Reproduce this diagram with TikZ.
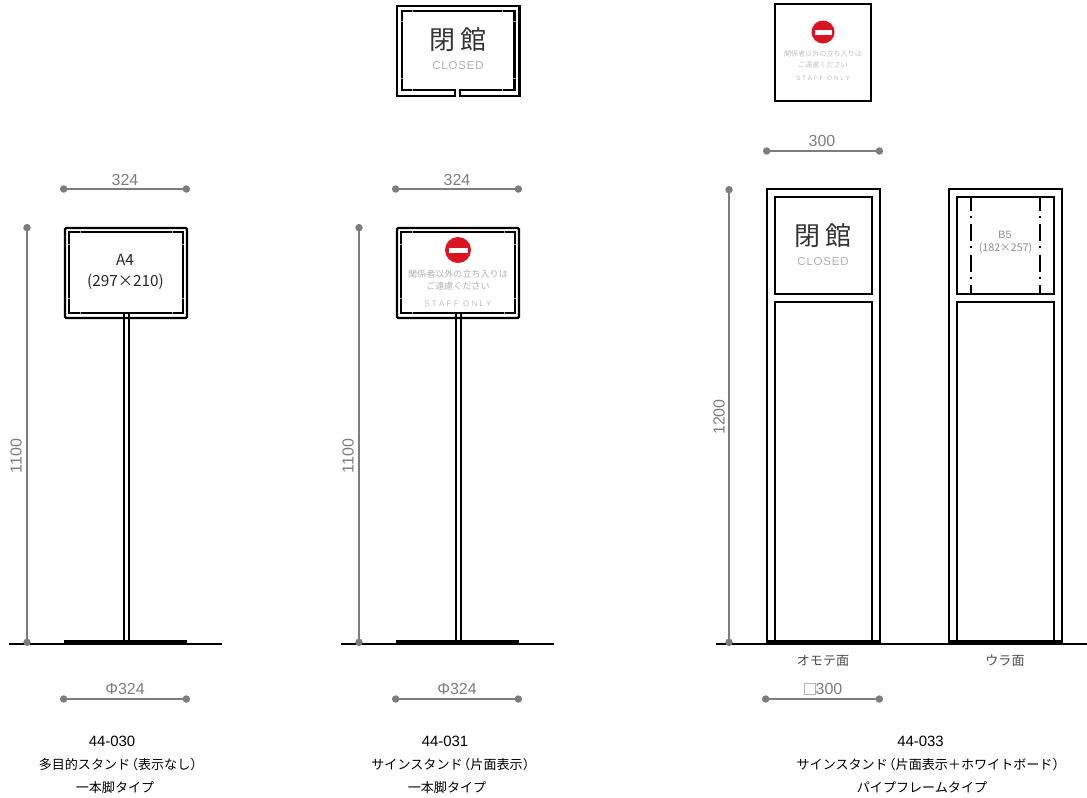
\documentclass[tikz,border=0pt]{standalone}
\usepackage{fontspec}
\setmainfont{Liberation Sans}
\newfontfamily\cjk{Noto Sans CJK JP}
\usetikzlibrary{arrows.meta}
\definecolor{dimgray}{RGB}{125,125,125}
\definecolor{signgray}{RGB}{175,175,175}
\definecolor{nored}{RGB}{218,20,32}
\newcommand{\lparen}{\kern-.4em（}
\newcommand{\rparen}{）\kern-.4em}
\tikzset{
  framepipe/.style={draw=black, line width=1.7pt},
  panel/.style={draw=black, line width=1.6pt},
  groundline/.style={draw=black, line width=1.4pt},
  baseplate/.style={fill=black},
  whitetick/.style={draw=white, line width=0.35pt, opacity=0.6},
  dimline/.style={draw=dimgray, line width=1.4pt, {Circle[length=5.5pt]}-{Circle[length=5.5pt]}},
  dimlabel/.style={text=dimgray, font=\fontsize{12}{12}\selectfont, inner sep=0pt},
  caption/.style={font=\cjk\fontsize{9.8}{10}\selectfont, inner sep=0pt},
  codelabel/.style={font=\fontsize{11.2}{11}\selectfont, inner sep=0pt},
  facelabel/.style={text=black!70, font=\cjk\fontsize{9.8}{10}\selectfont, inner sep=0pt},
  bigsign/.style={text=black!80, font=\cjk\fontsize{19.5}{19}\selectfont, inner sep=0pt},
  closedtext/.style={text=signgray, font=\fontsize{8.6}{9}\selectfont\addfontfeatures{LetterSpace=7}, inner sep=0pt},
  tinysign/.style={text=signgray, font=\cjk\fontsize{6.8}{7}\selectfont, inner sep=0pt},
  staffonly/.style={text=signgray!80, font=\fontsize{6}{6}\selectfont, inner sep=0pt},
}
\begin{document}
\begin{tikzpicture}[x=0.75pt, y=-0.75pt]
  \useasboundingbox (0,0) rectangle (1087,797);

  % two stands on one leg
  \foreach \ox/\nm in {0/a, 332/b} {
    \begin{scope}[shift={(\ox,0)}]
      \draw[framepipe, rounded corners=1pt] (65,228) rectangle (187,318);
      \draw[panel] (69,232) rectangle (183,313);
      \draw[panel, line width=1.5pt] (123.5,313) -- (123.5,641) (128.5,313) -- (128.5,641);
      \fill[baseplate] (64,640) rectangle (187,645);
      \foreach \tx in {80.5,172} {
        \draw[whitetick] (\tx,230.5) -- (\tx,233.5) (\tx,311.5) -- (\tx,314.5);
      }
      \foreach \ty in {244,298} {
        \draw[whitetick] (67.5,\ty) -- (70.5,\ty) (181.5,\ty) -- (184.5,\ty);
      }
      \coordinate (gl\nm) at (9,644);
      \coordinate (gr\nm) at (222,644);
      \draw[groundline] (gl\nm) -- (gr\nm);
      \coordinate (wl\nm) at (60,189);
      \coordinate (wr\nm) at (190,189);
      \draw[dimline] (wl\nm) -- (wr\nm);
      \node[dimlabel] (wt\nm) at (125,180) {324};
      \coordinate (ht\nm) at (27,224);
      \coordinate (hb\nm) at (27,646);
      \draw[dimline] (ht\nm) -- (hb\nm);
      \node[dimlabel, rotate=90] (hv\nm) at (16,456) {1100};
      \coordinate (bl\nm) at (60,699);
      \coordinate (br\nm) at (190,699);
      \draw[dimline] (bl\nm) -- (br\nm);
      \node[dimlabel] (bt\nm) at (125,689) {Φ324};
    \end{scope}
  }

  % A4 sign
  \node[inner sep=0pt, font=\cjk\fontsize{11.5}{12}\selectfont, text=black!85] (afour) at (125,260) {A4};
  \node[inner sep=0pt, font=\cjk\fontsize{11.5}{12}\selectfont, text=black!85] (afoursize) at (125.5,282) {(297×210)};

  % no entry sign
  \fill[nored] (458,250) circle (13);
  \fill[white] (448.5,247.5) rectangle (467.5,253);
  \node[tinysign] (nea) at (458,274.5) {関係者以外の立ち入りは};
  \node[tinysign] (neb) at (458,286.5) {ご遠慮ください};
  \node[staffonly] (nec) at (458,303.5) {S T A F F\ \ O N L Y};

  % closed sign on top
  \draw[framepipe, line join=miter] (460,96) -- (519.5,96) -- (519.5,6) -- (397,6) -- (397,96) -- (455,96)
    -- (455,90) -- (402,90) -- (402,11) -- (514.5,11) -- (514.5,90) -- (460,90) -- cycle;
  \foreach \tx in {412,502} {
    \draw[whitetick] (\tx,9.5) -- (\tx,12.5) (\tx,88.5) -- (\tx,91.5);
  }
  \foreach \ty in {21,78} {
    \draw[whitetick] (400.5,\ty) -- (403.5,\ty) (513,\ty) -- (516,\ty);
  }
  \node[bigsign] (toptitle) at (458,39.5) {閉\,館};
  \node[closedtext] (topclosed) at (458,65.5) {CLOSED};

  % no entry sheet on top
  \draw[draw=black, line width=0.9pt] (775,4) rectangle (871,101);
  \fill[nored] (823,32) circle (11.5);
  \fill[white] (814.5,30) rectangle (831.5,34.5);
  \node[tinysign, text=signgray!80, font=\cjk\fontsize{5.3}{6}\selectfont] (sha) at (823,53.5) {関係者以外の立ち入りは};
  \node[tinysign, text=signgray!80, font=\cjk\fontsize{5.3}{6}\selectfont] (shb) at (823,64.5) {ご遠慮ください};
  \node[staffonly, font=\fontsize{4.8}{5}\selectfont] (shc) at (823,78) {S T A F F\ \ O N L Y};

  % pipe frame, both faces
  \foreach \ox/\nm in {0/f, 182/r} {
    \begin{scope}[shift={(\ox,0)}]
      \draw[panel] (767,641) -- (767,189) -- (880,189) -- (880,641);
      \draw[panel] (775,197) rectangle (872,294);
      \draw[panel] (775,640) -- (775,302) -- (872,302) -- (872,640);
      \fill[baseplate] (766,640) rectangle (881,644.5);
    \end{scope}
  }
  \coordinate (gls) at (716,644);
  \coordinate (grs) at (1087,644);
  \draw[groundline] (gls) -- (grs);

  \node[bigsign] (fronttitle) at (823,235.5) {閉\,館};
  \node[closedtext] (frontclosed) at (823,261.5) {CLOSED};

  % B5 insert on the back
  \foreach \xx/\nm in {970.5/p, 1039.5/q} {
    \coordinate (\nm t) at (\xx,197);
    \coordinate (\nm b) at (\xx,294);
    \draw[black, line width=1.5pt, dash pattern=on 13pt off 3.5pt on 1.5pt off 4.9pt, dash phase=2.6pt] (\nm t) -- (\nm b);
  }
  \node[text=black!45, inner sep=0pt, font=\fontsize{8}{8}\selectfont] (bfive) at (1005,235) {B5};
  \node[text=black!45, inner sep=0pt, font=\cjk\fontsize{8}{8}\selectfont] (bfivesize) at (1005.5,248.5) {(182×257)};

  % dimensions of the frame
  \coordinate (wls) at (763,151);
  \coordinate (wrs) at (883,151);
  \draw[dimline] (wls) -- (wrs);
  \node[dimlabel] (wts) at (822,141) {300};
  \coordinate (hts) at (729,186);
  \coordinate (hbs) at (729,646);
  \draw[dimline] (hts) -- (hbs);
  \node[dimlabel, rotate=90] (hvs) at (719,417) {1200};
  \coordinate (bls) at (762,699);
  \coordinate (brs) at (883,699);
  \draw[dimline] (bls) -- (brs);
  \node[dimlabel] (bts) at (823,689) {\tikz[baseline=0pt]\draw[black!30, line width=0.5pt] (0,0) rectangle (8.5pt,8.5pt);300};
  \node[facelabel] (facef) at (823,660.5) {オモテ面};
  \node[facelabel] (facer) at (1005,660.5) {ウラ面};

  % captions
  \node[codelabel] (capa) at (112,741) {44-030};
  \node[caption] (capb) at (118.5,764.5) {多目的スタンド\lparen 表示なし\rparen};
  \node[caption] (capc) at (115,787.5) {一本脚タイプ};
  \node[codelabel] (capd) at (445,741) {44-031};
  \node[caption] (cape) at (451,764.5) {サインスタンド\lparen 片面表示\rparen};
  \node[caption] (capf) at (447,787.5) {一本脚タイプ};
  \node[codelabel] (capg) at (920.5,741) {44-033};
  \node[caption] (caph) at (928.5,764.5) {サインスタンド\lparen 片面表示＋ホワイトボード\rparen};
  \node[caption] (capi) at (922,787.5) {パイプフレームタイプ};
\end{tikzpicture}
\end{document}
